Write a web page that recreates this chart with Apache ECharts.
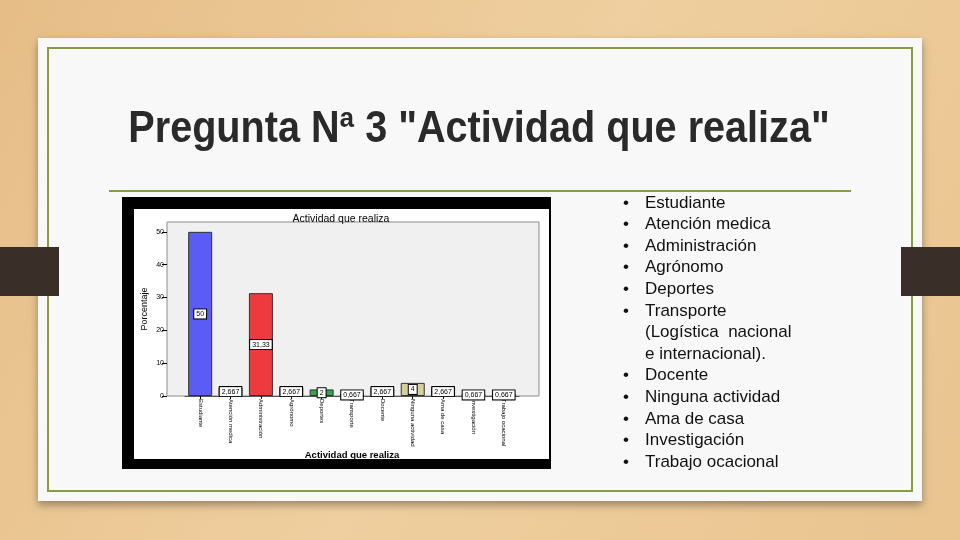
<!DOCTYPE html>
<html>
<head>
<meta charset="utf-8">
<script src="https://cdn.jsdelivr.net/npm/echarts@6/dist/echarts.min.js"></script>
<style>html,body{margin:0;padding:0;background:#ebc796;}#c{width:960px;height:540px;}</style>
</head>
<body>
<div id="c"></div>
<script>
// ---- data ----
var slideTitle = 'Pregunta Nª 3 "Actividad que realiza"';
var chartTitle = 'Actividad que realiza';
var yAxisName = 'Porcentaje';
var xAxisName = 'Actividad que realiza';
var categories = ['Estudiante', 'Atención medica', 'Administración', 'Agrónomo', 'Deportes', 'Transporte', 'Docente', 'Ninguna actividad', 'Ama de casa', 'Investigación', 'Trabajo ocacional'];
var percentages = [50, 2.667, 31.33, 2.667, 2, 0.667, 2.667, 4, 2.667, 0.667, 0.667];
var yTicks = [0, 10, 20, 30, 40, 50];
var bulletItems = ['Estudiante', 'Atención medica', 'Administración', 'Agrónomo', 'Deportes', 'Transporte\n(Logística  nacional\ne internacional).', 'Docente', 'Ninguna actividad', 'Ama de casa', 'Investigación', 'Trabajo ocacional'];

// ---- styles ----
var barColors = ['#5a5cf3', '#c8c8c8', '#ee3a3f', '#c8c8c8', '#33a84a', '#c8c8c8', '#c8c8c8', '#d5cf9c', '#c8c8c8', '#c8c8c8', '#c8c8c8'];

var chart = echarts.init(document.getElementById('c'), null, {renderer: 'canvas'});

var bulletMarks = bulletItems.map(function (t) {
  var n = t.split('\n').length;
  return '•' + new Array(n).join('\n ');
}).join('\n');
var bulletText = bulletItems.join('\n');

var option = {
  backgroundColor: '#ebc796',
  animation: false,
  title: {
    text: chartTitle,
    left: 336, top: 209,
    textAlign: 'center',
    textStyle: {fontFamily: 'Liberation Sans', fontSize: 10.5, fontWeight: 'normal', color: '#000'}
  },
  graphic: [
    {type: 'rect', z: -100, silent: true, shape: {x: 0, y: 0, width: 960, height: 540},
      style: {fill: new echarts.graphic.LinearGradient(0, 0, 1, 1, [
        {offset: 0, color: '#e6bd87'}, {offset: 0.5, color: '#efcf9f'}, {offset: 1, color: '#e9c48f'}])}},
    {type: 'rect', z: -98, silent: true, shape: {x: 38, y: 38, width: 884, height: 463},
      style: {fill: '#f8f8f8', shadowBlur: 8, shadowOffsetY: 4, shadowColor: 'rgba(0,0,0,0.35)'}},
    {type: 'rect', z: -97, silent: true, shape: {x: 48, y: 48, width: 864, height: 443},
      style: {fill: 'none', stroke: '#8a9b47', lineWidth: 2}},
    {type: 'rect', z: -96, silent: true, shape: {x: 0, y: 247, width: 59, height: 49}, style: {fill: '#3a2f28'}},
    {type: 'rect', z: -96, silent: true, shape: {x: 901, y: 247, width: 59, height: 49}, style: {fill: '#3a2f28'}},
    {type: 'line', z: -97, silent: true, shape: {x1: 109, y1: 191, x2: 851, y2: 191},
      style: {stroke: '#8a9b47', lineWidth: 2}},
    {type: 'text', z: -96, silent: true, x: 479, y: 130, scaleX: 0.9,
      style: {text: slideTitle, fill: '#2a2a2a', font: 'bold 44px "Liberation Sans", Arial, sans-serif',
        textAlign: 'center', textVerticalAlign: 'middle'}},
    {type: 'text', z: -96, silent: true, x: 626, y: 192.2,
      style: {text: bulletMarks, fill: '#111', font: '17px "Liberation Sans", Arial, sans-serif', lineHeight: 21.6,
        textAlign: 'center', textVerticalAlign: 'top'}},
    {type: 'text', z: -96, silent: true, x: 645, y: 192.2,
      style: {text: bulletText, fill: '#111', font: '17px "Liberation Sans", Arial, sans-serif', lineHeight: 21.6,
        textAlign: 'left', textVerticalAlign: 'top'}},
    // embedded chart image frame
    {type: 'rect', z: -95, silent: true, shape: {x: 122, y: 197, width: 429, height: 272}, style: {fill: '#000'}},
    {type: 'rect', z: -94, silent: true, shape: {x: 134, y: 209, width: 415, height: 250}, style: {fill: '#fff'}},
    {type: 'rect', z: -93, silent: true, shape: {x: 167, y: 222, width: 372, height: 174},
      style: {fill: '#f0f0f0', stroke: '#8c8c8c', lineWidth: 1}}
  ],
  grid: {left: 185, right: 441, top: 222, bottom: 144, containLabel: false},
  xAxis: {
    type: 'category',
    data: categories,
    name: xAxisName,
    nameLocation: 'middle',
    nameGap: 51,
    nameTextStyle: {fontFamily: 'Liberation Sans', fontSize: 9.5, fontWeight: 'bold', color: '#000'},
    axisLine: {show: true, lineStyle: {color: '#555', width: 1}},
    axisTick: {show: true, alignWithLabel: true, length: 3, lineStyle: {color: '#000'}},
    axisLabel: {rotate: -90, fontSize: 6, fontFamily: 'Liberation Sans', color: '#000', margin: 3, interval: 0}
  },
  yAxis: {
    type: 'value',
    min: 0, max: 53, interval: 10,
    offset: 18,
    name: yAxisName,
    nameLocation: 'middle',
    nameGap: 18,
    nameRotate: 90,
    nameTextStyle: {fontFamily: 'Liberation Sans', fontSize: 9, color: '#000'},
    axisLine: {show: false},
    axisTick: {show: true, length: 5, customValues: yTicks, lineStyle: {color: '#000'}},
    splitLine: {show: false},
    axisLabel: {fontSize: 7, fontFamily: 'Liberation Sans', color: '#000', margin: 3, customValues: yTicks}
  },
  series: [{
    type: 'bar',
    data: percentages.map(function (v, i) { return {value: v, itemStyle: {color: barColors[i]}}; }),
    barWidth: 24,
    itemStyle: {borderColor: '#333', borderWidth: 1},
    label: {
      show: true, position: 'inside',
      formatter: function (p) { return String(p.value).replace('.', ','); },
      fontFamily: 'Liberation Sans', fontSize: 7, color: '#000',
      backgroundColor: '#fff', borderColor: '#000', borderWidth: 1, padding: [1, 2]
    }
  }]
};
chart.setOption(option);
</script>
</body>
</html>
